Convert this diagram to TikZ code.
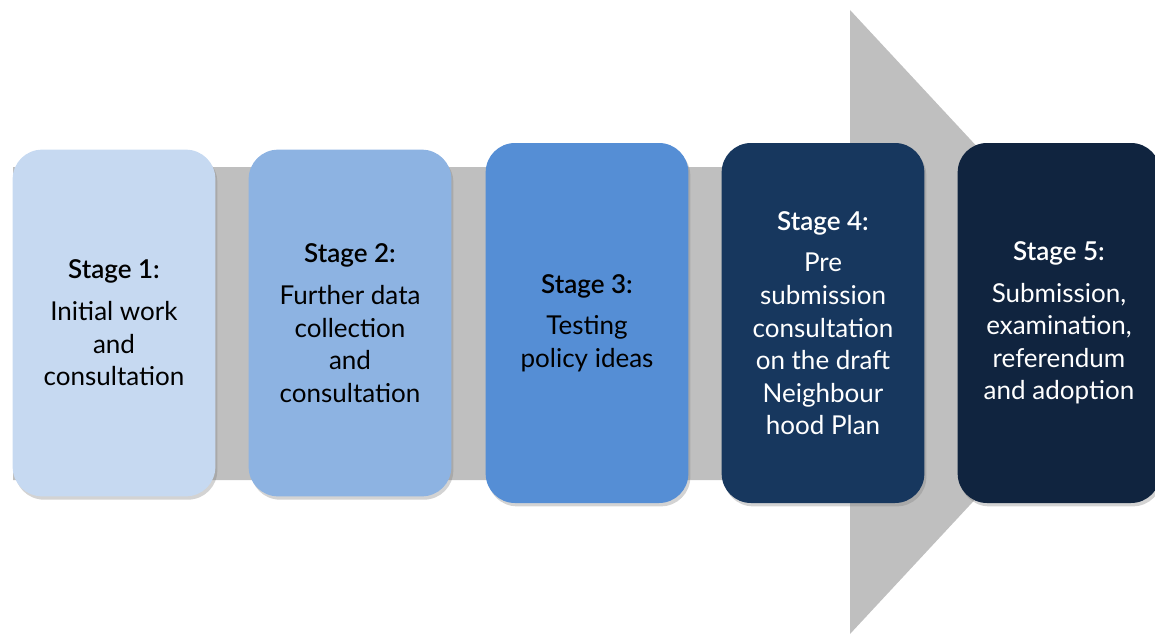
\documentclass[tikz,border=0pt]{standalone}
\usepackage{fontspec}
\setmainfont{Lato}[BoldFont={Lato Semibold}]
\usepackage{tikz}
\usetikzlibrary{shadows}
\definecolor{stageA}{HTML}{C6D9F1}
\definecolor{stageB}{HTML}{8DB3E2}
\definecolor{stageC}{HTML}{558ED5}
\definecolor{stageD}{HTML}{17375E}
\definecolor{stageE}{HTML}{10243F}
\definecolor{band}{HTML}{BFBFBF}
\begin{document}
\begin{tikzpicture}[x=0.75pt,y=-0.75pt,
  stagebox/.style={rectangle,rounded corners=22pt,minimum width=152pt,
    align=center,inner sep=0pt,
    font=\fontsize{19.5}{24.4}\selectfont,
    drop shadow={shadow xshift=1.5pt,shadow yshift=-2.5pt,opacity=0.35}},
  small/.style={stagebox,minimum height=260pt},
  tall/.style={stagebox,minimum height=270pt}]
\useasboundingbox (0,0) rectangle (1155,635);
% grey arrow behind the stages
\fill[band] (13,167) -- (850,167) -- (850,10) -- (1140,322)
  -- (850,634) -- (850,480) -- (13,480) -- cycle;
\node[small,fill=stageA] (s1) at (114,323)
  {\textbf{Stage 1:}\\[7pt]Initial work\\and\\consultation};
\node[small,fill=stageB] (s2) at (350,323)
  {\textbf{Stage 2:}\\[7pt]Further data\\collection\\and\\consultation};
\node[tall,fill=stageC] (s3) at (587,323)
  {\textbf{Stage 3:}\\[7pt]Testing\\policy ideas};
\node[tall,fill=stageD,text=white] (s4) at (823,323)
  {\textbf{Stage 4:}\\[7pt]Pre\\submission\\consultation\\on the draft\\Neighbour\\hood Plan};
\node[tall,fill=stageE,text=white] (s5) at (1059,323)
  {\textbf{Stage 5:}\\[7pt]Submission,\\examination,\\referendum\\and adoption};
\end{tikzpicture}
\end{document}
